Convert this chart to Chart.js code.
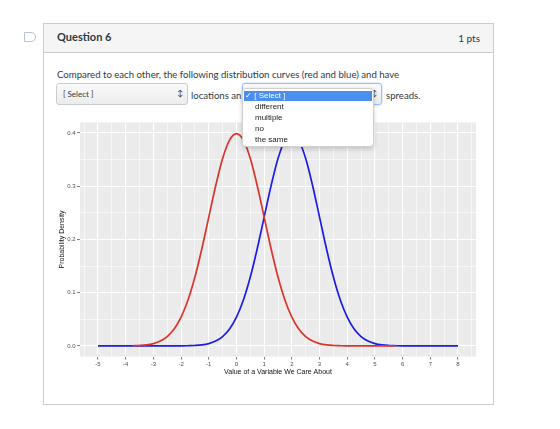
<!DOCTYPE html>
<html>
<head>
<meta charset="utf-8">
<script src="https://cdn.jsdelivr.net/npm/chart.js@4"></script>
<style>
  html, body { margin: 0; padding: 0; background: #fff; width: 560px; height: 429px; overflow: hidden; font-family: Lato, sans-serif; color: #2d3b45; }
  .abs { position: absolute; }
  #icon { left: 24px; top: 32px; width: 10px; height: 8px; border: 1px solid #b8c4d0; border-radius: 0 5px 5px 0; }
  #card { left: 43px; top: 23px; width: 449px; height: 380px; border: 1px solid #c7cdd1; }
  #header { left: 44px; top: 24px; width: 449px; height: 28px; background: #f5f5f5; border-bottom: 1px solid #c7cdd1; }
  #qtitle { left: 57px; top: 30px; font-weight: bold; font-size: 11px; }
  #pts { left: 400px; width: 80px; text-align: right; top: 32px; font-size: 10px; }
  #qtext { left: 57px; top: 69px; font-size: 9.6px; white-space: nowrap; }
  .sel { height: 22px; border: 1px solid #c7cdd1; border-radius: 3px; background: linear-gradient(#fafafa, #ececec); font-size: 8px; box-sizing: border-box; }
  .sel span { position: absolute; left: 6px; top: 5px; }
  .sel b { position: absolute; right: 4px; top: 4px; font-size: 8px; font-weight: normal; color: #333; }
  #sel1 { left: 56px; top: 83px; width: 132px; }
  #sel2 { left: 242px; top: 83px; width: 140px; border-color: #9cc0f0; box-shadow: 0 0 2px #9cc0f0; }
  #loc { left: 191px; top: 90px; font-size: 9.6px; }
  #spr { left: 386px; top: 90px; font-size: 9.6px; }
  #menu { left: 242px; top: 88px; width: 132px; height: 59px; background: #fff; border: 1px solid #d0d0d0; border-radius: 4px; box-shadow: 0 2px 5px rgba(0,0,0,0.18); box-sizing: border-box; font-family: "Liberation Sans", sans-serif; font-size: 8px; color: #222; }
  #menu .hi { position: absolute; left: 1px; top: 2px; width: 128px; height: 10px; background: #4a8ef0; color: #fff; }
  #menu .hi span { position: absolute; left: 1px; top: 0px; }
  #menu .it { position: absolute; left: 12px; }
  #chartBox { left: 50px; top: 116px; width: 432px; height: 266px; }
</style>
</head>
<body>
<div id="icon" class="abs"></div>
<div id="card" class="abs"></div>
<div id="header" class="abs"></div>
<div id="qtitle" class="abs">Question 6</div>
<div id="pts" class="abs">1 pts</div>
<div id="qtext" class="abs">Compared to each other, the following distribution curves (red and blue) and have</div>
<div id="sel1" class="abs sel"><span>[ Select ]</span><b>&#8597;</b></div>
<div id="loc" class="abs">locations an</div>
<div id="sel2" class="abs sel"><b>&#8597;</b></div>
<div id="spr" class="abs">spreads.</div>
<div id="chartBox" class="abs"><canvas id="chart" width="432" height="266"></canvas></div>
<div id="menu" class="abs">
  <div class="hi"><span>&#10003; [ Select ]</span></div>
  <div class="it" style="top:13px">different</div>
  <div class="it" style="top:24px">multiple</div>
  <div class="it" style="top:35px">no</div>
  <div class="it" style="top:46px">the same</div>
</div>
<script>
// Red curve (centered at 0)
const redX = [-3.75, -3.5, -3.25, -3, -2.75, -2.5, -2.25, -2, -1.75, -1.5, -1.25, -1, -0.75, -0.5, -0.25, 0,
  0.25, 0.5, 0.75, 1, 1.25, 1.5, 1.75, 2, 2.25, 2.5, 2.75, 3, 3.25, 3.5, 3.75, 4, 5, 5.75];
const redY = [0.0004, 0.0009, 0.002, 0.0044, 0.0091, 0.0175, 0.0317, 0.054, 0.0863, 0.1295, 0.1826, 0.242, 0.3011, 0.3521, 0.3867, 0.3989,
  0.3867, 0.3521, 0.3011, 0.242, 0.1826, 0.1295, 0.0863, 0.054, 0.0317, 0.0175, 0.0091, 0.0044, 0.002, 0.0009, 0.0004, 0.0001, 0, 0];

// Blue curve (centered at 2)
const blueX = [-5, -4, -3, -2, -1.75, -1.5, -1.25, -1, -0.75, -0.5, -0.25, 0, 0.25, 0.5, 0.75, 1, 1.25, 1.5, 1.75, 2,
  2.25, 2.5, 2.75, 3, 3.25, 3.5, 3.75, 4, 4.25, 4.5, 4.75, 5, 5.25, 5.5, 5.75, 6, 7, 8];
const blueY = [0, 0, 0, 0.0001, 0.0004, 0.0009, 0.002, 0.0044, 0.0091, 0.0175, 0.0317, 0.054, 0.0863, 0.1295, 0.1826, 0.242, 0.3011, 0.3521, 0.3867, 0.3989,
  0.3867, 0.3521, 0.3011, 0.242, 0.1826, 0.1295, 0.0863, 0.054, 0.0317, 0.0175, 0.0091, 0.0044, 0.002, 0.0009, 0.0004, 0.0001, 0, 0];

// Axis ticks
const xTickValues = [-5, -4, -3, -2, -1, 0, 1, 2, 3, 4, 5, 6, 7, 8];
const xTickLabels = ['-5', '-4', '-3', '-2', '-1', '0', '1', '2', '3', '4', '5', '6', '7', '8'];
const xMinorValues = [-5.5, -4.5, -3.5, -2.5, -1.5, -0.5, 0.5, 1.5, 2.5, 3.5, 4.5, 5.5, 6.5, 7.5, 8.5];
const yTickValues = [0, 0.1, 0.2, 0.3, 0.4];
const yTickLabels = ['0.0', '0.1', '0.2', '0.3', '0.4'];
const yMinorValues = [0.05, 0.15, 0.25, 0.35];

function toPoints(xs, ys) {
    return xs.map((x, i) => ({ x: x, y: ys[i] }));
}

function isMajor(list, v) {
    return list.some(m => Math.abs(m - v) < 1e-9);
}

function labelFor(values, labels, v) {
    const i = values.findIndex(m => Math.abs(m - v) < 1e-9);
    return i >= 0 ? labels[i] : '';
}

// Grey ggplot-style panel
const panelBg = {
    id: 'panelBg',
    beforeDraw(chart) {
        const a = chart.chartArea;
        const c = chart.ctx;
        c.save();
        c.fillStyle = '#ebebeb';
        c.fillRect(a.left, a.top, a.right - a.left, a.bottom - a.top);
        c.restore();
    }
};

const ctx = document.getElementById('chart').getContext('2d');
const chart = new Chart(ctx, {
    type: 'line',
    data: {
        datasets: [{
            label: 'red',
            data: toPoints(redX, redY),
            borderColor: '#dc332b',
            borderWidth: 1.7,
            pointRadius: 0,
            cubicInterpolationMode: 'monotone',
            fill: false
        }, {
            label: 'blue',
            data: toPoints(blueX, blueY),
            borderColor: '#1c1ce6',
            borderWidth: 1.7,
            pointRadius: 0,
            cubicInterpolationMode: 'monotone',
            fill: false
        }]
    },
    options: {
        responsive: false,
        animation: false,
        layout: { padding: { top: 6.4, right: 6, left: 0, bottom: 0 } },
        plugins: { legend: { display: false }, tooltip: { enabled: false } },
        scales: {
            x: {
                type: 'linear',
                min: -5.65,
                max: 8.65,
                afterBuildTicks: s => {
                    s.ticks = xTickValues.concat(xMinorValues).sort((a, b) => a - b).map(v => ({ value: v }));
                },
                afterFit: s => { s.height = 25.4; },
                border: { display: false },
                grid: {
                    color: '#ffffff',
                    lineWidth: c => isMajor(xTickValues, c.tick.value) ? 1.1 : 0.55,
                    tickColor: c => isMajor(xTickValues, c.tick.value) ? '#444' : 'rgba(0,0,0,0)',
                    tickLength: 3,
                    tickWidth: 0.7
                },
                ticks: {
                    autoSkip: false,
                    maxRotation: 0,
                    padding: 1,
                    color: '#4d4d4d',
                    font: { family: 'Liberation Sans', size: 6 },
                    callback: v => labelFor(xTickValues, xTickLabels, v)
                },
                title: {
                    display: true,
                    text: 'Value of a Variable We Care About',
                    color: '#111',
                    font: { family: 'Liberation Sans', size: 7 },
                    padding: { top: 0, bottom: 6 }
                }
            },
            y: {
                min: -0.02,
                max: 0.42,
                afterBuildTicks: s => {
                    s.ticks = yTickValues.concat(yMinorValues).sort((a, b) => a - b).map(v => ({ value: v }));
                },
                afterFit: s => { s.width = 30; },
                border: { display: false },
                grid: {
                    color: '#ffffff',
                    lineWidth: c => isMajor(yTickValues, c.tick.value) ? 1.1 : 0.55,
                    tickColor: c => isMajor(yTickValues, c.tick.value) ? '#444' : 'rgba(0,0,0,0)',
                    tickLength: 3,
                    tickWidth: 0.7
                },
                ticks: {
                    autoSkip: false,
                    padding: 1.5,
                    color: '#4d4d4d',
                    font: { family: 'Liberation Sans', size: 6 },
                    callback: v => labelFor(yTickValues, yTickLabels, v)
                },
                title: {
                    display: true,
                    text: 'Probability Density',
                    color: '#111',
                    font: { family: 'Liberation Sans', size: 7 },
                    padding: { top: 8, bottom: 0 }
                }
            }
        }
    },
    plugins: [panelBg]
});
</script>
</body>
</html>
